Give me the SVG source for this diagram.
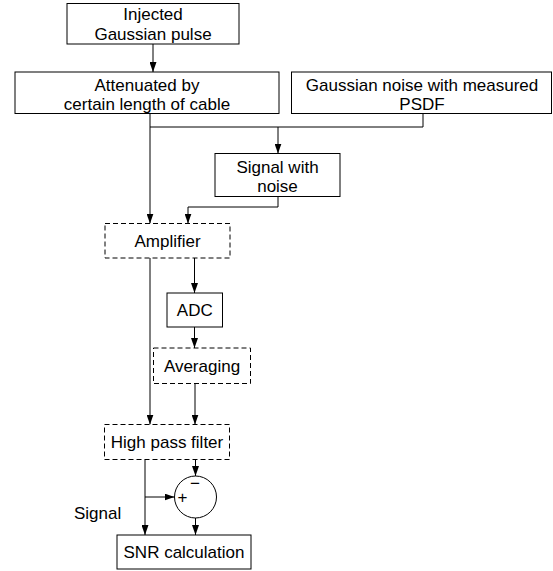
<svg xmlns="http://www.w3.org/2000/svg" width="553" height="571" viewBox="0 0 553 571">
<style>
  .box { fill: #fff; stroke: #000; stroke-width: 1; }
  .dash { fill: #fff; stroke: #000; stroke-width: 1; stroke-dasharray: 5 3; }
  .t { font-family: "Liberation Sans", Arial, sans-serif; font-size: 17px; fill: #000; text-anchor: middle; }
  .tl { font-family: "Liberation Sans", Arial, sans-serif; font-size: 17px; fill: #000; }
  .c { fill: none; stroke: #000; stroke-width: 1; }
  .ca { fill: none; stroke: #000; stroke-width: 1; marker-end: url(#arr); }
</style>
<defs>
  <marker id="arr" markerUnits="userSpaceOnUse" markerWidth="10" markerHeight="7" refX="10" refY="3.5" orient="auto">
    <path d="M0,0 L10,3.5 L0,7 z" fill="#000"/>
  </marker>
</defs>
<rect width="553" height="571" fill="#fff"/>
<g id="connectors">
  <line class="ca" x1="153" y1="44" x2="153" y2="72"/>
  <line class="ca" x1="150" y1="114" x2="150" y2="223.5"/>
  <polyline class="c" points="150,127 423,127 423,113"/>
  <line class="ca" x1="278" y1="127" x2="278" y2="153.5"/>
  <polyline class="ca" points="278,196.5 278,207 188,207 188,223.5"/>
  <line class="ca" x1="150" y1="258" x2="150" y2="424.5"/>
  <line class="ca" x1="194.5" y1="258" x2="194.5" y2="293"/>
  <line class="ca" x1="194.5" y1="327" x2="194.5" y2="348"/>
  <line class="ca" x1="195" y1="383.5" x2="195" y2="424.5"/>
  <line class="ca" x1="145" y1="459.5" x2="145" y2="535"/>
  <line class="ca" x1="145" y1="497" x2="174.5" y2="497"/>
  <line class="ca" x1="195.5" y1="459.5" x2="195.5" y2="476"/>
  <line class="ca" x1="195.5" y1="518" x2="195.5" y2="535"/>
</g>
<g id="injected">
  <rect class="box" x="67" y="3.5" width="172" height="40.5"/>
  <text class="t" x="153" y="20">Injected</text>
  <text class="t" x="153" y="39.5">Gaussian pulse</text>
</g>
<g id="attenuated">
  <rect class="box" x="15" y="72" width="264" height="41.5"/>
  <text class="t" x="147" y="90.5">Attenuated by</text>
  <text class="t" x="147" y="110">certain length of cable</text>
</g>
<g id="noise">
  <rect class="box" x="291.5" y="72" width="260" height="41.5"/>
  <text class="t" x="422" y="90.5">Gaussian noise with measured</text>
  <text class="t" x="422" y="110">PSDF</text>
</g>
<g id="signalnoise">
  <rect class="box" x="215" y="153.5" width="125" height="43"/>
  <text class="t" x="277.5" y="172.5">Signal with</text>
  <text class="t" x="277.5" y="192">noise</text>
</g>
<g id="amplifier">
  <rect class="dash" x="105" y="223.5" width="125" height="34.5"/>
  <text class="t" x="167.5" y="247">Amplifier</text>
</g>
<g id="adc">
  <rect class="box" x="167" y="293" width="55.5" height="34"/>
  <text class="t" x="194.8" y="316">ADC</text>
</g>
<g id="averaging">
  <rect class="dash" x="153.5" y="348" width="97" height="35.5"/>
  <text class="t" x="202" y="371.5">Averaging</text>
</g>
<g id="hpf">
  <rect class="dash" x="104.5" y="424.5" width="125" height="35"/>
  <text class="t" x="167" y="448">High pass filter</text>
</g>
<g id="sum">
  <circle cx="195.5" cy="497" r="21" fill="#fff" stroke="#000" stroke-width="1"/>
  <text class="t" x="195" y="489">−</text>
  <text class="t" x="182.5" y="503">+</text>
</g>
<g id="snr">
  <rect class="box" x="117" y="535" width="134" height="34"/>
  <text class="t" x="184" y="558">SNR calculation</text>
</g>
<g id="signal-label">
  <text class="tl" x="74" y="519">Signal</text>
</g>
</svg>
